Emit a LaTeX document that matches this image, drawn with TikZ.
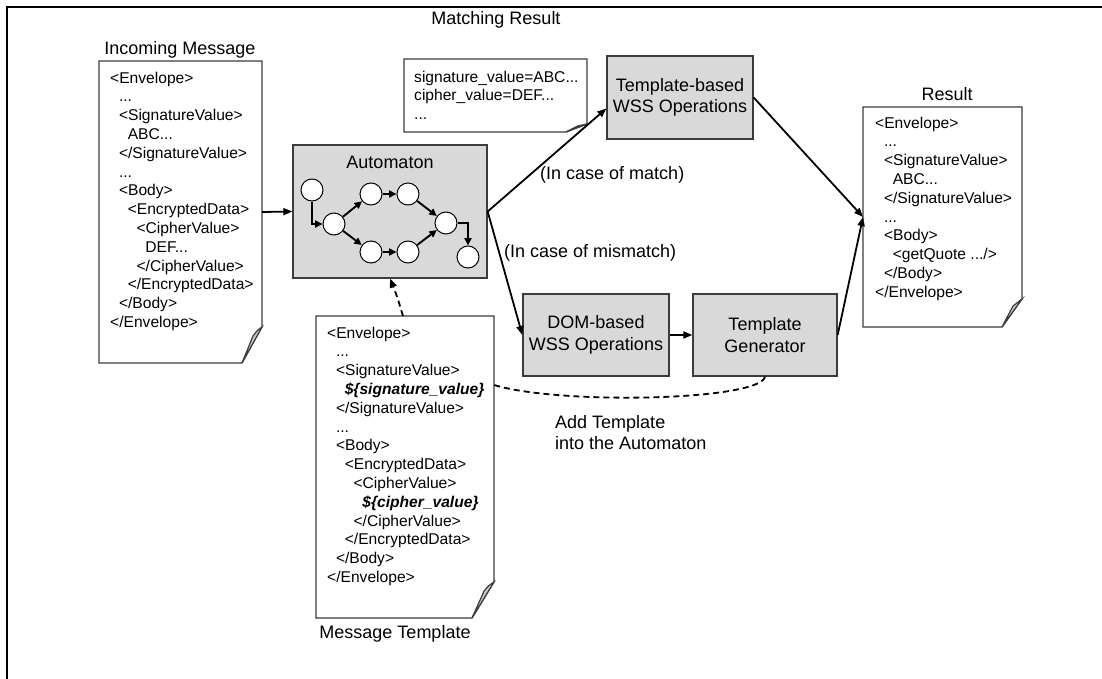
\documentclass[tikz,border=0pt]{standalone}
\usepackage{fontspec}
\setmainfont{Liberation Sans}
\usetikzlibrary{arrows.meta,calc}

\definecolor{boxgray}{RGB}{217,217,217}
\definecolor{foldgray}{RGB}{200,200,200}
\definecolor{edgegray}{RGB}{60,60,60}

\newcommand\xmlfont{\fontsize{15.6}{18.8}\selectfont}
\newcommand\labfont{\fontsize{18}{21.5}\selectfont}
\newcommand\ia{\hspace*{8.8pt}}
\newcommand\var[1]{\textbf{\textit{#1}}}

% page outline with a curled bottom-right corner: #1 node, #2 fold width, #3 fold height
\newcommand\docshape[3]{%
  \draw[docline] (#1.north west) -- (#1.north east) -- ($(#1.south east)+(0,-#3)$)
    -- ($(#1.south east)+(-#2,0)$) -- (#1.south west) -- cycle;
  \filldraw[docline,fill=foldgray] ($(#1.south east)+(0,-#3)$) -- ($(#1.south east)+(-#2,0)$)
    -- ($(#1.south east)+(-0.45*#2,-0.75*#3)$)
    .. controls ($(#1.south east)+(-0.25*#2,-0.9*#3)$) .. ($(#1.south east)+(0,-#3)$) -- cycle;}

\begin{document}
\begin{tikzpicture}[x=1pt,y=-1pt,
  docline/.style={draw=edgegray,line width=1.2pt},
  page/.style={inner sep=0pt,outer sep=0pt},
  xml/.style={anchor=north west,inner sep=0pt,align=left,font=\xmlfont},
  title/.style={anchor=base,inner sep=0pt,font=\labfont},
  procbox/.style={draw=edgegray,line width=1.3pt,fill=boxgray,inner sep=0pt,
    align=center,font=\labfont},
  state/.style={circle,draw=black,line width=1pt,fill=white,minimum size=22pt,inner sep=0pt},
  aedge/.style={line width=1.9pt,-{Triangle[length=7.5pt,width=7pt]}},
  conn/.style={line width=1.8pt,-{Triangle[length=9pt,width=7pt]}},
  dconn/.style={line width=1.8pt,dash pattern=on 6pt off 4pt},
  caption/.style={inner sep=0pt,font=\labfont}]

\useasboundingbox (0,0) rectangle (1102,679);
\fill[white] (0,0) rectangle (1102,679);
\draw[line width=2pt] (7,679) -- (7,7) -- (1102,7);

% ---------- pages ----------
\node[page,minimum width=163pt,minimum height=302pt] (inc) at (180.5,212) {};
\node[page,minimum width=183pt,minimum height=73pt] (mres) at (495.5,95.5) {};
\node[page,minimum width=159pt,minimum height=220pt] (res) at (942.5,217) {};
\node[page,minimum width=178pt,minimum height=302pt] (tmpl) at (405,467) {};

\docshape{inc}{20}{36}
\docshape{mres}{21}{8}
\docshape{res}{20}{28}
\docshape{tmpl}{22}{36}

\node[title] (incT) at (180,55) {Incoming Message};
\node[title] (mresT) at (496,25) {Matching Result};
\node[title] (resT) at (947,101) {Result};
\node[title] (tmplT) at (395,638) {Message Template};

\node[xml] (incX) at (110,71.6) {%
<Envelope>\\
\ia...\\
\ia<SignatureValue>\\
\ia\ia ABC...\\
\ia</SignatureValue>\\
\ia...\\
\ia<Body>\\
\ia\ia<EncryptedData>\\
\ia\ia\ia<CipherValue>\\
\ia\ia\ia\ia DEF...\\
\ia\ia\ia</CipherValue>\\
\ia\ia</EncryptedData>\\
\ia</Body>\\
</Envelope>};

\node[xml] (mresX) at (414,70.6) {%
signature\_value=ABC...\\
cipher\_value=DEF...\\
...};

\node[xml] (resX) at (875,116.6) {%
<Envelope>\\
\ia...\\
\ia<SignatureValue>\\
\ia\ia ABC...\\
\ia</SignatureValue>\\
\ia...\\
\ia<Body>\\
\ia\ia<getQuote .../>\\
\ia</Body>\\
</Envelope>};

\node[xml] (tmplX) at (327,326.6) {%
<Envelope>\\
\ia...\\
\ia<SignatureValue>\\
\ia\ia\var{\$\{signature\_value\}}\\
\ia</SignatureValue>\\
\ia...\\
\ia<Body>\\
\ia\ia<EncryptedData>\\
\ia\ia\ia<CipherValue>\\
\ia\ia\ia\ia\var{\$\{cipher\_value\}}\\
\ia\ia\ia</CipherValue>\\
\ia\ia</EncryptedData>\\
\ia</Body>\\
</Envelope>};

% ---------- processing boxes ----------
\node[procbox,minimum width=194pt,minimum height=133pt] (auto) at (390,211.5) {};
\node[title] (autoT) at (390,169) {Automaton};
\node[procbox,minimum width=146pt,minimum height=83pt] (tb) at (680,97.5) {Template-based\\WSS Operations};
\node[procbox,minimum width=146pt,minimum height=82pt] (dom) at (596,335) {DOM-based\\WSS Operations};
\node[procbox,minimum width=144pt,minimum height=82pt] (tg) at (765,335) {Template\\Generator};

% ---------- automaton states ----------
\node[state] (s1) at (312,190) {};
\node[state] (s2) at (334,224) {};
\node[state] (s3) at (371,194) {};
\node[state] (s4) at (408,194) {};
\node[state] (s5) at (371,252) {};
\node[state] (s6) at (408,252) {};
\node[state] (s7) at (446,223) {};
\node[state] (s8) at (468,257) {};

\draw[aedge] (s1.south) |- (s2.west);
\draw[aedge] (s2) -- (s3);
\draw[aedge] (s2) -- (s5);
\draw[aedge] (s3) -- (s4);
\draw[aedge] (s5) -- (s6);
\draw[aedge] (s4) -- (s7);
\draw[aedge] (s6) -- (s7);
\draw[aedge] (s7.east) -| (s8.north);

% ---------- connectors ----------
\draw[conn] (inc.east) -- (auto.west);
\draw[conn] (auto.east) -- ([yshift=-11pt]tb.west);
\draw[conn] (auto.east) -- (dom.west);
\draw[conn] (dom.east) -- (tg.west);
\draw[conn] (tb.east) -- (res.west);
\draw[conn] (tg.east) -- (res.west);
\draw[dconn,-{Triangle[length=9pt,width=7pt]}] ([xshift=-2pt]tmpl.north)
  .. controls ($(tmpl.north)+(-8,-20)$) .. (auto.south);
\draw[dconn] (tg.south) .. controls ($(tg.south)+(-5,24)$) and ($(tmpl.east)+(66,-62)$)
  .. ($(tmpl.east)+(0,-82)$);

% ---------- labels ----------
\node[caption,anchor=base west] (lmatch) at (540,179) {(In case of match)};
\node[caption,anchor=base west] (lmis) at (504,257) {(In case of mismatch)};
\node[caption,anchor=north west,align=left,font=\fontsize{18}{21}\selectfont] (ladd) at (555,415) {Add Template\\into the Automaton};

\end{tikzpicture}
\end{document}
